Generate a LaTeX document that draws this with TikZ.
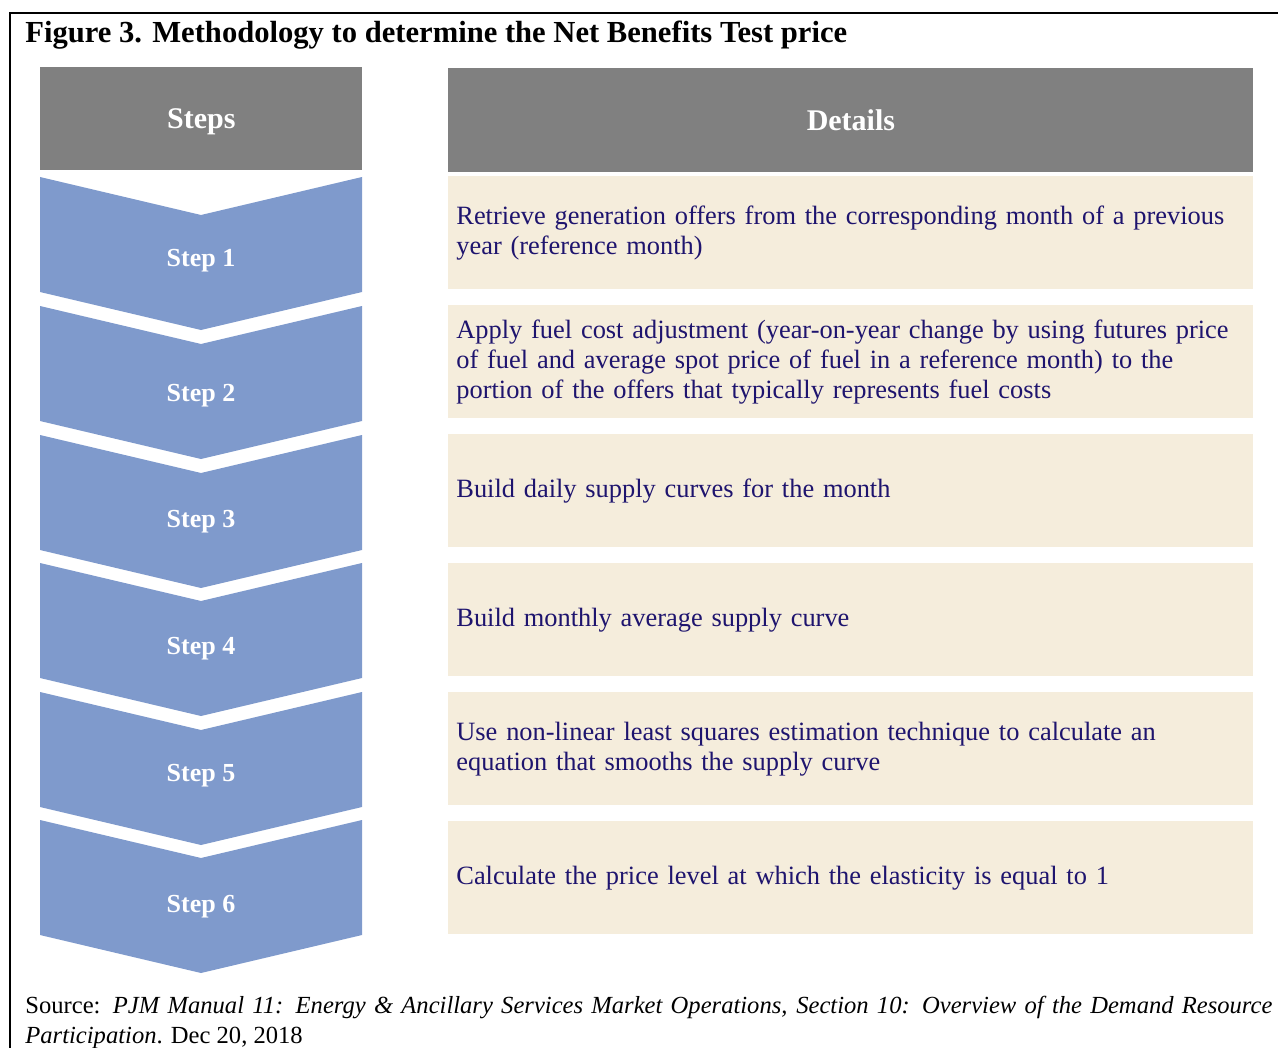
\documentclass[tikz,border=0pt]{standalone}
\usepackage{fontspec}
\setmainfont{Liberation Serif}

\definecolor{headgrey}{RGB}{128,128,128}
\definecolor{stepblue}{RGB}{127,154,204}
\definecolor{detailbeige}{RGB}{245,237,220}
\definecolor{textnavy}{RGB}{30,20,110}

\tikzset{
    head/.style={fill=headgrey, text=white, inner sep=0pt, anchor=north west, text depth=0pt,
        font=\fontsize{15}{18}\selectfont\bfseries},
    steplabel/.style={text=white, font=\fontsize{13}{15}\selectfont\bfseries},
    detail/.style={fill=detailbeige, text=textnavy, anchor=north west, align=left,
        text width=394.5pt, inner xsep=4pt, minimum height=56.5pt,
        font=\fontsize{13.2}{15}\selectfont},
}

\begin{document}
\begin{tikzpicture}[x=0.5pt, y=-0.5pt]
    \useasboundingbox (0,0) rectangle (1278,1048);
    % frame
    \draw[line width=1pt] (10,1048) -- (10,13) -- (1278,13);
    \node[anchor=base west, inner sep=0pt, font=\fontsize{15.3}{18}\selectfont\bfseries] (title) at (25,43)
        {Figure 3. Methodology to determine the Net Benefits Test price};

    % column heads
    \node[head, minimum width=161pt, minimum height=51.5pt] (steps) at (40,67) {Steps};
    \node[head, minimum width=402.5pt, minimum height=52pt] (details) at (448,68) {Details};

    % chevrons
    \foreach \i/\t/\ly in {1/177/84, 2/306/90, 3/435/87, 4/563/86, 5/692/84, 6/820/87} {
        \fill[stepblue] (40,\t) -- (201,\t+38) -- (362,\t) -- (362,\t+115)
            -- (201,\t+153) -- (40,\t+115) -- cycle;
        \node[steplabel] (step\i) at (201,\t+\ly) {Step \i};
    }

    % details
    \node[detail] (det1) at (448,176) {Retrieve generation offers from the corresponding month of a previous\\ year (reference month)};
    \node[detail] (det2) at (448,305) {Apply fuel cost adjustment (year-on-year change by using futures price\\ of fuel and average spot price of fuel in a reference month) to the\\ portion of the offers that typically represents fuel costs};
    \node[detail] (det3) at (448,434) {Build daily supply curves for the month};
    \node[detail] (det4) at (448,563) {Build monthly average supply curve};
    \node[detail] (det5) at (448,692) {Use non-linear least squares estimation technique to calculate an\\ equation that smooths the supply curve};
    \node[detail] (det6) at (448,821) {Calculate the price level at which the elasticity is equal to 1};

    % source line
    \node[anchor=north west, text width=623.5pt, align=justify, inner sep=0pt,
        font=\fontsize{12.3}{15}\selectfont] (source) at (25,996)
        {Source: \textit{PJM Manual 11: Energy \& Ancillary Services Market Operations, Section 10: Overview of the Demand Resource\linebreak Participation}. Dec 20, 2018};
\end{tikzpicture}
\end{document}
